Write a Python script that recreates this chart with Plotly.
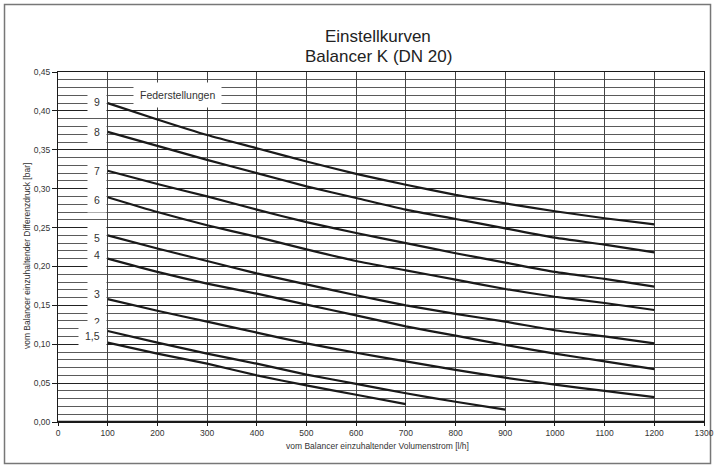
import plotly.graph_objects as go

# ---------------- data ----------------
flow = [100, 200, 300, 400, 500, 600, 700, 800, 900, 1000, 1100, 1200]

curve_9 = [0.410, 0.389, 0.369, 0.352, 0.335, 0.319, 0.305, 0.292, 0.281, 0.271, 0.262, 0.254]
curve_8 = [0.373, 0.355, 0.337, 0.320, 0.303, 0.288, 0.273, 0.261, 0.249, 0.237, 0.228, 0.218]
curve_7 = [0.323, 0.306, 0.290, 0.273, 0.257, 0.243, 0.230, 0.217, 0.205, 0.193, 0.184, 0.174]
curve_6 = [0.289, 0.270, 0.253, 0.238, 0.222, 0.207, 0.195, 0.183, 0.171, 0.161, 0.153, 0.144]
curve_5 = [0.240, 0.223, 0.207, 0.191, 0.177, 0.163, 0.150, 0.139, 0.129, 0.118, 0.110, 0.101]
curve_4 = [0.210, 0.193, 0.178, 0.165, 0.151, 0.137, 0.123, 0.111, 0.099, 0.088, 0.078, 0.068]
curve_3 = [0.158, 0.143, 0.129, 0.115, 0.101, 0.089, 0.078, 0.067, 0.057, 0.048, 0.040, 0.032]
curve_2 = [0.117, 0.102, 0.088, 0.075, 0.061, 0.049, 0.037, 0.026, 0.016]
curve_15 = [0.102, 0.088, 0.075, 0.060, 0.047, 0.035, 0.023]

series_names = ["9", "8", "7", "6", "5", "4", "3", "2", "1,5"]
series_values = [curve_9, curve_8, curve_7, curve_6, curve_5, curve_4, curve_3, curve_2, curve_15]
label_y = [0.411, 0.373, 0.323, 0.285, 0.236, 0.215, 0.164, 0.128, 0.110]

x_ticks = list(range(0, 1301, 100))
y_ticks = [0.00, 0.05, 0.10, 0.15, 0.20, 0.25, 0.30, 0.35, 0.40, 0.45]
y_ticktext = ["0,00", "0,05", "0,10", "0,15", "0,20", "0,25", "0,30", "0,35", "0,40", "0,45"]
y_minor = [round(i * 0.01, 2) for i in range(0, 46)]

title_lines = ["Einstellkurven", "Balancer K (DN 20)"]
x_title = "vom Balancer einzuhaltender Volumenstrom [l/h]"
y_title = "vom Balancer einzuhaltender Differenzdruck [bar]"
legend_title = "Federstellungen"

FONT = "Liberation Sans, Arial, sans-serif"

# ---------------- figure ----------------
fig = go.Figure()
for name, vals in zip(series_names, series_values):
    fig.add_trace(go.Scatter(
        x=flow[:len(vals)], y=vals, mode="lines", name=name,
        line=dict(color="#1a1a1a", width=2.2, shape="spline", smoothing=0.6),
        showlegend=False, hoverinfo="skip"))

annotations = []
for name, yv in zip(series_names, label_y):
    annotations.append(dict(
        x=100, y=yv, xref="x", yref="y", text=name, showarrow=False,
        xanchor="right", yanchor="middle", xshift=-1,
        bgcolor="white", borderpad=6,
        font=dict(family=FONT, size=10.5, color="#333")))

annotations.append(dict(
    x=240, y=0.420, xref="x", yref="y", text=legend_title, showarrow=False,
    xanchor="center", yanchor="middle", bgcolor="white", borderpad=6,
    font=dict(family=FONT, size=10.5, color="#333")))

annotations.append(dict(
    x=0.496, y=1.1009, xref="paper", yref="paper", text=title_lines[0],
    showarrow=False, xanchor="center", yanchor="middle",
    font=dict(family=FONT, size=17, color="#222")))
annotations.append(dict(
    x=0.496, y=1.0437, xref="paper", yref="paper", text=title_lines[1],
    showarrow=False, xanchor="center", yanchor="middle",
    font=dict(family=FONT, size=17, color="#222")))

annotations.append(dict(
    x=0.495, y=-0.0686, xref="paper", yref="paper", text=x_title,
    showarrow=False, xanchor="center", yanchor="middle",
    font=dict(family=FONT, size=8.5, color="#333")))
annotations.append(dict(
    x=-0.048, y=0.474, xref="paper", yref="paper", text=y_title,
    showarrow=False, xanchor="center", yanchor="middle", textangle=-90,
    font=dict(family=FONT, size=8.5, color="#333")))

shapes = [
    # thick bottom axis line
    dict(type="line", xref="paper", yref="y", x0=0, x1=1, y0=0, y1=0,
         line=dict(color="#1a1a1a", width=2.5)),
    # outer frame
    dict(type="rect", xref="paper", yref="paper",
         x0=-0.0828, x1=1.0101, y0=-0.1186, y1=1.1929,
         line=dict(color="#777", width=1.5), layer="below"),
]

fig.update_layout(
    width=715, height=468, autosize=False,
    margin=dict(l=58, r=11, t=72, b=46, pad=0),
    paper_bgcolor="white", plot_bgcolor="white",
    font=dict(family=FONT, size=8.5, color="#333"),
    annotations=annotations, shapes=shapes,
    xaxis=dict(
        range=[0, 1300], tickmode="array", tickvals=x_ticks, automargin=False,
        showgrid=True, gridcolor="#444", gridwidth=1,
        ticks="outside", ticklen=3, tickcolor="#1a1a1a",
        showline=True, linecolor="#1a1a1a", linewidth=1, mirror=True,
        zeroline=False, tickfont=dict(family=FONT, size=8.5, color="#333")),
    yaxis=dict(
        range=[0, 0.45], tickmode="array", tickvals=y_ticks, ticktext=y_ticktext,
        automargin=False,
        showgrid=True, gridcolor="#222", gridwidth=1,
        minor=dict(tickmode="array", tickvals=y_minor, showgrid=True,
                   gridcolor="#5a5a5a", gridwidth=1, ticks=""),
        ticks="outside", ticklen=5, tickcolor="#1a1a1a",
        showline=True, linecolor="#1a1a1a", linewidth=1, mirror=True,
        zeroline=False, tickfont=dict(family=FONT, size=8.5, color="#333")),
)

fig.write_html(
    "out.html",
    config={"responsive": False, "displayModeBar": False},
    post_script="document.body.style.margin='0';document.body.style.overflow='hidden';",
)
